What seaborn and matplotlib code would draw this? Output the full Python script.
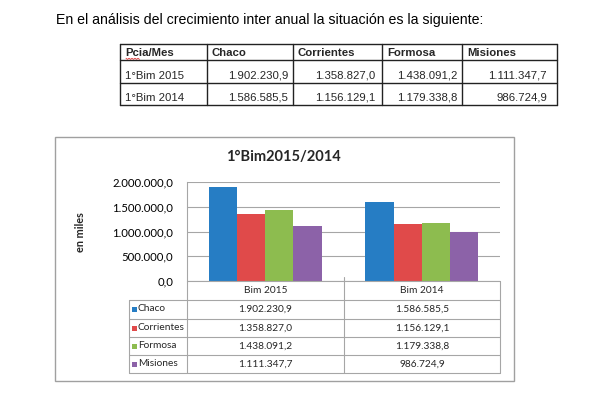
import numpy as np
import pandas as pd
import matplotlib
matplotlib.use("Agg")
import matplotlib.pyplot as plt
from matplotlib.lines import Line2D
from matplotlib.patches import Rectangle
from matplotlib.ticker import FuncFormatter
import seaborn as sns

# ---------------- data ----------------
intro = "En el análisis del crecimiento inter anual la situación es la siguiente:"
header_label = "Pcia/Mes"
provinces = ["Chaco", "Corrientes", "Formosa", "Misiones"]
periods_table = ["1°Bim 2015", "1°Bim 2014"]
periods_chart = ["Bim 2015", "Bim 2014"]
values_2015 = [1902230.9, 1358827.0, 1438091.2, 1111347.7]
values_2014 = [1586585.5, 1156129.1, 1179338.8, 986724.9]
chart_title = "1°Bim2015/2014"
y_label = "en miles"
y_ticks = [0, 500000, 1000000, 1500000, 2000000]
colors = ["#267dc4", "#e04a4a", "#8dbc4f", "#8c62a8"]


def fmt(v):
    s = f"{v:,.1f}"
    return s.replace(",", "X").replace(".", ",").replace("X", ".")


sns.set_theme(style="white")
plt.rcParams["font.family"] = ["Lato", "DejaVu Sans"]

W, H = 600, 394
fig = plt.figure(figsize=(6, 3.94), dpi=100)
fig.patch.set_facecolor("white")


def fx(x):
    return x / W


def fy(y):
    return 1 - y / H


def hline(x0, x1, y, color="#a6a6a6", lw=0.8):
    fig.add_artist(Line2D([fx(x0), fx(x1)], [fy(y), fy(y)],
                          transform=fig.transFigure, color=color, lw=lw))


def vline(x, y0, y1, color="#a6a6a6", lw=0.8):
    fig.add_artist(Line2D([fx(x), fx(x)], [fy(y0), fy(y1)],
                          transform=fig.transFigure, color=color, lw=lw))


def text(x, y, s, **kw):
    fig.text(fx(x), fy(y), s, **kw)


# ---------------- intro text + top table ----------------
arial = ["Liberation Sans", "DejaVu Sans"]
text(56, 20, intro, family=arial, fontsize=10.2, va="center", ha="left", color="black")

tx = [120, 207, 293, 382, 462, 557]
ty = [44, 60, 83, 105]
pads = [5, 7, 5, 10]
for x in tx:
    vline(x, ty[0], ty[-1], color="#222222", lw=1.0)
for y in ty:
    hline(tx[0], tx[-1], y, color="#222222", lw=1.0)

hdr = [header_label] + provinces
for i, h in enumerate(hdr):
    text(tx[i] + 5, 53, h, family=arial, fontsize=8.2,
         weight="bold", va="center", ha="left")
# red spell-check squiggle under "Pcia"
zx = np.arange(126, 141, 1.5)
zy = 58.3 + np.where(np.arange(len(zx)) % 2 == 0, 0, 1.1)
fig.add_artist(Line2D(fx(zx), fy(zy), transform=fig.transFigure, color="#e03030", lw=0.6))

rows = [values_2015, values_2014]
row_c = [76, 98]
for r, (lab, vals) in enumerate(zip(periods_table, rows)):
    yc = row_c[r]
    text(tx[0] + 5, yc, lab, family=arial, fontsize=8.2, va="center", ha="left")
    for i, v in enumerate(vals):
        text(tx[i + 2] - pads[i], yc, fmt(v), family=arial, fontsize=8.2,
             va="center", ha="right")

# ---------------- chart frame ----------------
fig.add_artist(Rectangle((fx(55), fy(381)), fx(514) - fx(55), fy(137) - fy(381),
                         transform=fig.transFigure, fill=False,
                         edgecolor="#a0a0a0", lw=1.0))

# ---------------- bar chart ----------------
L, R, T, B = 187, 500, 182, 281
ax = fig.add_axes([fx(L), fy(B), fx(R) - fx(L), fy(T) - fy(B)])

df = pd.DataFrame({
    "period": np.repeat(periods_chart, len(provinces)),
    "province": provinces * len(periods_chart),
    "value": values_2015 + values_2014,
})
sns.barplot(data=df, x="period", y="value", hue="province", order=periods_chart,
            hue_order=provinces, palette=colors, saturation=1, width=0.72,
            linewidth=0, legend=False, ax=ax, errorbar=None)

ax.set_xlim(-0.5, 1.5)
ax.set_ylim(0, y_ticks[-1])
ax.set_yticks(y_ticks)
ax.yaxis.set_major_formatter(FuncFormatter(lambda v, p: fmt(v)))
ax.tick_params(axis="y", length=0, pad=10, labelsize=8.2, colors="black")
ax.tick_params(axis="x", length=0, labelbottom=False)
ax.set_xlabel("")
ax.set_ylabel("")
ax.yaxis.grid(True, color="#a6a6a6", lw=0.8)
ax.set_axisbelow(True)
for s in ["top", "right", "bottom"]:
    ax.spines[s].set_visible(False)
ax.spines["left"].set_color("#a6a6a6")
ax.spines["left"].set_linewidth(0.8)
ax.set_facecolor("none")

text(283, 157, chart_title, fontsize=10.5, weight="bold", ha="center", va="center")
text(80, 232, y_label, fontsize=7.8, weight="bold", ha="center", va="center", rotation=90)

# ---------------- data table under chart ----------------
mid = 344
rows_y = [281, 300, 319, 337, 355, 373]
hline(L, R, rows_y[0])
for y in rows_y[1:]:
    hline(129, R, y)
vline(129, rows_y[1], rows_y[-1])
vline(L, rows_y[0], rows_y[-1])
vline(R, rows_y[0], rows_y[-1])
vline(mid, rows_y[0] - 4, rows_y[-1])

col_c = [(L + mid) / 2, (mid + R) / 2]
for j, p in enumerate(periods_chart):
    text(col_c[j], (rows_y[0] + rows_y[1]) / 2, p, fontsize=7.3, ha="center", va="center")

for i, prov in enumerate(provinces):
    yc = (rows_y[i + 1] + rows_y[i + 2]) / 2
    fig.add_artist(Rectangle((fx(132), fy(yc + 2.5)), 5 / W, 5 / H,
                             transform=fig.transFigure, facecolor=colors[i],
                             edgecolor="none"))
    text(138, yc - 1, prov, fontsize=7.3, ha="left", va="center")
    for j, vals in enumerate(rows):
        text(col_c[j], yc, fmt(vals[i]), fontsize=7.3, ha="center", va="center")

fig.savefig("out.png", dpi=100, facecolor="white")
